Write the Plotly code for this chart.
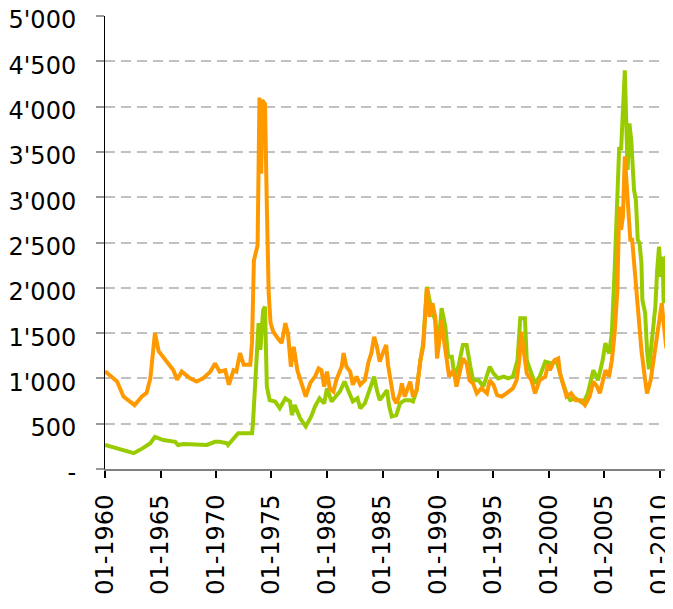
import plotly.graph_objects as go

# Orange series
orange_dates = [
    "1960-01", "1960-06", "1961-02", "1961-09", "1962-09", "1963-05", "1963-10", "1964-02", "1964-05", "1964-07",
    "1964-11", "1965-02", "1965-09", "1966-03", "1966-07", "1966-12", "1967-09", "1968-04", "1968-11", "1969-07",
    "1969-12", "1970-05", "1970-11", "1971-03", "1971-08", "1971-11", "1972-03", "1972-07", "1973-02", "1973-04",
    "1973-06", "1973-10", "1973-12", "1974-02", "1974-03", "1974-06", "1974-08", "1974-10", "1974-12", "1975-03",
    "1975-08", "1975-12", "1976-04", "1976-07", "1976-10", "1977-01", "1977-05", "1977-10", "1978-02", "1978-07",
    "1978-12", "1979-04", "1979-07", "1979-10", "1980-01", "1980-04", "1980-08", "1980-11", "1981-05", "1981-07",
    "1981-10", "1982-02", "1982-05", "1982-09", "1983-01", "1983-06", "1983-10", "1984-01", "1984-04", "1984-07",
    "1984-10", "1985-02", "1985-05", "1985-07", "1985-10", "1986-01", "1986-04", "1986-08", "1986-10", "1987-01",
    "1987-07", "1987-10", "1988-02", "1988-06", "1988-09", "1989-01", "1989-04", "1989-07", "1989-10", "1989-12",
    "1990-03", "1990-05", "1990-07", "1990-10", "1991-01", "1991-06", "1991-09", "1992-01", "1992-04", "1992-08",
    "1992-11", "1993-03", "1993-07", "1993-12", "1994-06", "1994-09", "1995-01", "1995-05", "1995-10", "1996-03",
    "1996-10", "1997-02", "1997-05", "1997-07", "1997-10", "1998-01", "1998-06", "1998-10", "1999-03", "1999-09",
    "1999-12", "2000-02", "2000-07", "2000-11", "2001-01", "2001-04", "2001-08", "2002-01", "2002-06", "2002-12",
    "2003-04", "2003-09", "2004-01", "2004-05", "2004-08", "2005-02", "2005-06", "2005-09", "2005-12", "2006-03",
    "2006-05", "2006-07", "2006-09", "2006-11", "2007-02", "2007-04", "2007-05", "2007-07", "2007-10", "2008-01",
    "2008-03", "2008-05", "2008-09", "2008-11", "2009-03", "2009-06", "2009-09", "2010-01", "2010-03", "2010-05",
    "2010-08", "2010-10",
]
orange_values = [
    1080, 1040, 965, 800, 705, 800, 840, 1000, 1280, 1500,
    1300, 1260, 1165, 1090, 985, 1075, 1000, 965, 1000, 1075,
    1165, 1075, 1090, 930, 1090, 1075, 1280, 1150, 1150, 1400,
    2300, 2470, 4100, 3260, 4070, 4030, 2900, 1940, 1610, 1515,
    1440, 1390, 1610, 1480, 1130, 1350, 1090, 930, 800, 950,
    1020, 1110, 1090, 910, 1075, 890, 855, 980, 1130, 1280,
    1130, 1075, 930, 1020, 930, 980, 1185, 1280, 1460, 1350,
    1185, 1295, 1370, 1150, 945, 780, 725, 835, 945, 800,
    965, 800, 870, 1200, 1350, 1995, 1680, 1830, 1680, 1220,
    1460, 1645, 1460, 1200, 1020, 1090, 910, 1090, 1220, 1165,
    980, 945, 835, 890, 835, 980, 930, 815, 800, 835,
    890, 980, 1200, 1515, 1240, 1055, 980, 835, 980, 1020,
    1150, 1090, 1200, 1220, 1055, 945, 800, 835, 760, 760,
    705, 800, 965, 910, 835, 1090, 1020, 1200, 1500, 1975,
    2895, 2640, 2785, 3450, 2930, 2710, 2530, 2530, 2160, 1790,
    1645, 1310, 980, 835, 980, 1200, 1425, 1680, 1830, 1610,
    1330, 1625,
]

# Green series
green_dates = [
    "1960-01", "1961-02", "1962-08", "1963-06", "1964-02", "1964-07", "1965-04", "1966-05", "1966-08", "1967-02",
    "1969-03", "1969-12", "1970-05", "1971-01", "1971-02", "1972-01", "1972-10", "1973-04", "1973-05", "1973-07",
    "1973-11", "1974-01", "1974-04", "1974-06", "1974-08", "1974-11", "1975-05", "1975-10", "1976-04", "1976-09",
    "1976-11", "1977-02", "1977-08", "1978-02", "1978-08", "1978-12", "1979-05", "1979-10", "1980-01", "1980-06",
    "1980-10", "1981-03", "1981-08", "1982-02", "1982-05", "1982-10", "1983-01", "1983-06", "1983-10", "1984-01",
    "1984-04", "1984-07", "1984-10", "1985-02", "1985-06", "1985-08", "1985-11", "1986-04", "1986-08", "1987-01",
    "1987-07", "1987-10", "1988-02", "1988-06", "1988-09", "1989-01", "1989-06", "1989-10", "1990-01", "1990-05",
    "1990-09", "1990-12", "1991-04", "1991-07", "1991-11", "1992-04", "1992-08", "1992-12", "1993-03", "1993-09",
    "1994-02", "1994-09", "1995-01", "1995-06", "1995-12", "1996-05", "1996-10", "1997-03", "1997-06", "1997-11",
    "1998-01", "1998-06", "1998-10", "1999-03", "1999-09", "2000-04", "2000-09", "2001-03", "2001-08", "2001-12",
    "2002-06", "2003-02", "2003-07", "2004-01", "2004-06", "2004-11", "2005-02", "2005-06", "2005-09", "2005-12",
    "2006-03", "2006-05", "2006-07", "2006-09", "2006-11", "2007-02", "2007-04", "2007-06", "2007-09", "2007-11",
    "2008-01", "2008-03", "2008-05", "2008-06", "2008-09", "2008-11", "2009-01", "2009-04", "2009-08", "2009-10",
    "2009-12", "2010-02", "2010-04", "2010-05", "2010-08", "2010-10", "2011-01",
]
green_values = [
    265, 230, 175, 230, 285, 355, 320, 300, 265, 275,
    265, 300, 300, 285, 265, 395, 395, 395, 505, 945,
    1610, 1315, 1755, 1790, 910, 760, 745, 670, 780, 745,
    595, 705, 560, 470, 580, 690, 780, 725, 890, 745,
    800, 855, 965, 815, 745, 780, 670, 725, 835, 945,
    1020, 870, 760, 815, 870, 705, 580, 595, 725, 760,
    760, 745, 870, 1200, 1390, 2010, 1755, 1645, 1315, 1775,
    1570, 1240, 1240, 1020, 1130, 1370, 1370, 1130, 980, 980,
    910, 1130, 1055, 1000, 1020, 1000, 1020, 1200, 1665, 1665,
    1200, 1055, 945, 1020, 1185, 1165, 1200, 980, 835, 760,
    780, 725, 835, 1090, 980, 1200, 1390, 1275, 1500, 2195,
    3080, 3555, 3520, 3890, 4400, 3300, 3815, 3630, 3080, 2970,
    2530, 2490, 2270, 1865, 1720, 1310, 1100, 1390, 1790, 2195,
    2455, 2120, 2345, 1830, 2345, 2380, 2380,
]

y_tick_values = [0, 500, 1000, 1500, 2000, 2500, 3000, 3500, 4000, 4500, 5000]
y_tick_labels = ["-", "500", "1'000", "1'500", "2'000", "2'500", "3'000", "3'500", "4'000", "4'500", "5'000"]
x_tick_values = ["1960-01-01", "1965-01-01", "1970-01-01", "1975-01-01", "1980-01-01", "1985-01-01",
                 "1990-01-01", "1995-01-01", "2000-01-01", "2005-01-01", "2010-01-01"]
x_tick_labels = ["01-1960", "01-1965", "01-1970", "01-1975", "01-1980", "01-1985",
                 "01-1990", "01-1995", "01-2000", "01-2005", "01-2010"]

fig = go.Figure()
fig.add_trace(go.Scatter(x=green_dates, y=green_values, mode="lines",
                         line=dict(color="#99CC00", width=4), name="green"))
fig.add_trace(go.Scatter(x=orange_dates, y=orange_values, mode="lines",
                         line=dict(color="#FF9900", width=4), name="orange"))

font_family = "Verdana, DejaVu Sans, sans-serif"
# page has an 8px body margin, so the figure is sized to fit the 673x609 window
fig.update_layout(
    width=665, height=601,
    margin=dict(l=97, r=1, t=8, b=140),
    paper_bgcolor="white", plot_bgcolor="white",
    showlegend=False,
    font=dict(family=font_family, size=24, color="black"),
    xaxis=dict(
        type="date",
        range=["1960-01-01", "2011-02-01"],
        tickmode="array", tickvals=x_tick_values, ticktext=x_tick_labels,
        tickangle=-90,
        ticks="outside", ticklen=7, tickwidth=1.5, tickcolor="black",
        showline=True, linecolor="#808080", linewidth=2,
        showgrid=False, zeroline=False,
        ticklabelstandoff=7,
        ticklabeloverflow="allow",
        automargin=False,
        tickfont=dict(family=font_family, size=24, color="black"),
    ),
    yaxis=dict(
        range=[0, 5000],
        tickmode="array", tickvals=y_tick_values, ticktext=y_tick_labels,
        ticks="outside", ticklen=8, tickwidth=1.5, tickcolor="#999999",
        showline=True, linecolor="black", linewidth=1,
        showgrid=True, gridcolor="#C0C0C0", gridwidth=1.5, griddash="10px,6px",
        zeroline=False,
        ticklabelstandoff=15,
        ticklabelshift=4,
        ticklabeloverflow="allow",
        automargin=False,
        tickfont=dict(family=font_family, size=24, color="black"),
    ),
)

fig.write_html("out.html")
